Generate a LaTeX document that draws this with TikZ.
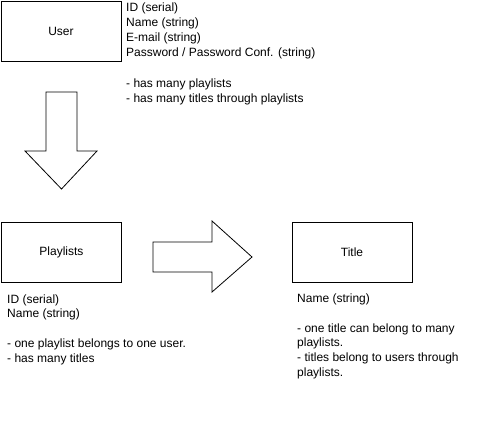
\documentclass[tikz,border=0pt]{standalone}
\usepackage{fontspec}
\setmainfont{Liberation Sans}
\usetikzlibrary{positioning}
\newcommand\txtfont{\fontsize{12}{14.8}\selectfont}

\begin{document}
\begin{tikzpicture}[x=1pt,y=-1pt,
	entity/.style={draw,line width=0.8pt,minimum width=120pt,minimum height=60pt,inner sep=0pt,font=\txtfont},
	attrs/.style={anchor=base west,inner sep=0pt,align=left,font=\txtfont},
	blockarrow/.style={draw,line width=0.8pt,line join=miter}]
	\useasboundingbox (0,0) rectangle (493,437);
	% the three tables
	\node[entity] (user) at (61,31.5) {User};
	\node[entity] (playlists) at (61.5,252.5) {Playlists};
	\node[entity] (title) at (352,252.5) {Title};
	% columns and relations (placed by the baseline of the last line)
	\node[attrs] (userattrs) at (126,56.3) {ID (serial)\\Name (string)\\E-mail (string)\\Password / Password Conf. (string)};
	\node[attrs] (userrels) at (126,102.5) {- has many playlists\\- has many titles through playlists};
	\node[attrs] (playlistattrs) at (7,362.3) {ID (serial)\\Name (string)\\[14.8pt]- one playlist belongs to one user.\\- has many titles};
	\node[attrs] (titleattrs) at (297,376.5) {Name (string)\\[14.8pt]- one title can belong to many\\playlists.\\- titles belong to users through\\playlists.};
	% block arrows
	\draw[blockarrow] (46,92) -- (77,92) -- (77,151) -- (97,151) -- (61.5,189) -- (25,151) -- (46,151) -- cycle;
	\draw[blockarrow] (153,242) -- (212,242) -- (212,221) -- (252,257) -- (212,292) -- (212,272) -- (153,272) -- cycle;
\end{tikzpicture}
\end{document}
